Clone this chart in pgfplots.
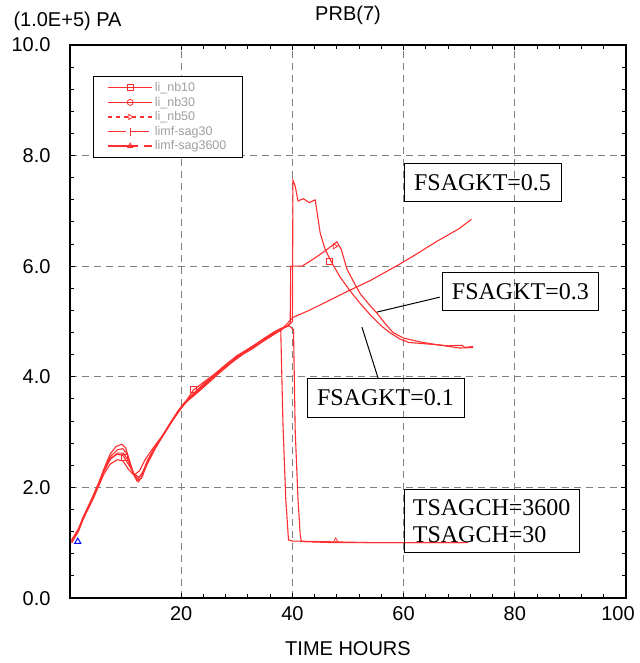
\documentclass[border=0pt]{standalone}
\usepackage{fontspec}
\setmainfont{Liberation Serif}
\setsansfont{Liberation Sans}
\usepackage{pgfplots}
\pgfplotsset{compat=1.18}
\definecolor{mred}{RGB}{255,45,45}
\begin{document}
\begin{tikzpicture}
\begin{axis}[name=ax, scale only axis, width=556pt, height=553pt,
  xmin=0, xmax=100, ymin=0, ymax=10,
  xtick={20,40,60,80,100}, ytick={0,2,4,6,8,10},
  xticklabels={20,40,60,80,\hspace*{-16pt}100},
  minor x tick num=4, minor y tick num=4,
  tick align=inside, major tick length=5pt, minor tick length=4pt,
  tick style={black, line width=1pt},
  axis line style={line width=1.6pt},
  grid=major, major grid style={gray, dash pattern=on 7pt off 5pt, line width=1.2pt},
  /pgf/number format/assume math mode=true,
  ticklabel style={font=\sffamily\fontsize{20}{20}\selectfont},
  xticklabel style={anchor=base, yshift=-22pt},
  yticklabel style={anchor=base east, xshift=-16pt, yshift=-7pt, /pgf/number format/fixed, /pgf/number format/fixed zerofill, /pgf/number format/precision=1},
  xlabel={TIME HOURS},
  xlabel style={font=\sffamily\fontsize{20}{20}\selectfont, at={(axis description cs:0.5,0)}, anchor=base, yshift=-57pt},
  title={PRB(7)},
  title style={font=\sffamily\fontsize{20}{20}\selectfont, at={(axis description cs:0.5,1)}, anchor=base, yshift=18pt},
  clip mode=individual,
  legend image code/.code={\draw[mark repeat=2,mark phase=2,#1] plot coordinates {(0pt,0pt) (22pt,0pt) (44pt,0pt)};},
  legend style={at={(axis cs:4.14,9.44)}, anchor=north west, draw=black, line width=1.2pt,
    font=\sffamily\fontsize{12.5}{12.5}\selectfont, text=gray!75, row sep=0pt, inner xsep=14pt, inner ysep=4pt},
  legend cell align=left,
]
\addlegendimage{mred, line width=1.2pt, mark=square, mark size=3pt, mark options={solid, line width=0.8pt}}
\addlegendentry{li\_nb10}
\addlegendimage{mred, line width=1.2pt, mark=o, mark size=3pt, mark options={solid, line width=0.8pt}}
\addlegendentry{li\_nb30}
\addlegendimage{mred, line width=1.2pt, dash pattern=on 4pt off 4pt, mark=triangle, mark size=3pt, mark options={solid, rotate=-90, line width=0.8pt}}
\addlegendentry{li\_nb50}
\addlegendimage{mred, line width=1.2pt, dash pattern=on 18pt off 5pt, mark=|, mark size=4pt, mark options={solid, line width=0.8pt}}
\addlegendentry{limf-sag30}
\addlegendimage{mred, line width=1.2pt, dash pattern=on 30pt off 6pt, mark=triangle, mark size=3pt, mark options={solid, line width=0.8pt}}
\addlegendentry{limf-sag3600}

% li_nb10 (FSAGKT=0.1)
\addplot[mred, line width=1.1pt, forget plot] coordinates {
(0.3,1.05)(1.5,1.25)(2.4,1.47)(3.3,1.66)(4.2,1.86)(5.2,2.08)(6,2.31)(7.2,2.6)(8.3,2.74)(9.3,2.78)(10,2.72)(10.8,2.45)(11.6,2.2)(12.3,2.1)(13,2.2)(13.8,2.45)(15,2.68)(16.2,2.86)(17.8,3.12)(19.4,3.38)(21,3.58)(22.2,3.76)(24,3.9)(26,4.05)(28,4.22)(30,4.38)(32,4.5)(34,4.62)(36,4.75)(38,4.85)(39.5,4.95)(40,5.0)(40.1,7.55)(40.5,7.45)(41,7.18)(42,7.22)(43,7.15)(44.1,7.2)(45,6.6)(45.9,6.3)(47.1,6.06)(48.6,5.8)(50.4,5.55)(52,5.35)(54,5.12)(56,4.92)(57.5,4.8)(59.4,4.68)(61,4.62)(63.5,4.6)(66,4.58)(68,4.56)(70.5,4.57)(71,4.53)(72.5,4.55)};
\addplot[mred, only marks, mark=square, mark size=3pt, line width=0.8pt, forget plot] coordinates {(9.8,2.55)(22.2,3.78)(46.6,6.08)};
% li_nb30 (FSAGKT=0.3)
\addplot[mred, line width=1.1pt, forget plot] coordinates {
(0.3,1.0)(1.5,1.2)(2.4,1.43)(4.2,1.8)(6,2.22)(7.2,2.42)(8.5,2.5)(9.5,2.48)(10.5,2.33)(11.5,2.22)(12.5,2.3)(13.5,2.5)(15,2.72)(16.5,2.92)(18,3.16)(19.5,3.38)(21,3.55)(23,3.72)(25,3.9)(27,4.08)(29,4.25)(31,4.4)(33,4.52)(35,4.66)(37,4.8)(38.8,4.9)(39.6,4.96)(39.7,6.0)(41.7,6.0)(43,6.08)(44.5,6.18)(46.2,6.3)(48,6.44)(48.8,6.3)(49.8,5.95)(51,5.72)(52.2,5.5)(53.7,5.32)(55.2,5.15)(56.7,4.96)(58.1,4.8)(60,4.7)(63,4.63)(66,4.58)(70.1,4.52)(72.5,4.53)};
\addplot[mred, only marks, mark=triangle, mark size=3pt, mark options={rotate=-90}, line width=0.8pt, forget plot] coordinates {(47.6,6.36)};
% li_nb50 (FSAGKT=0.5)
\addplot[mred, line width=1.1pt, forget plot] coordinates {
(0.3,1.02)(1.5,1.22)(2.4,1.45)(4.2,1.84)(6,2.27)(7.2,2.5)(8.5,2.62)(9.6,2.62)(10.4,2.5)(11.4,2.25)(12.2,2.15)(13,2.25)(14,2.5)(15.5,2.75)(17,2.98)(18.5,3.22)(20,3.45)(22,3.66)(24,3.85)(26,4.02)(28,4.18)(30,4.34)(32,4.48)(34,4.6)(36,4.72)(38,4.85)(40.2,5.08)(43,5.2)(46,5.35)(50,5.55)(54,5.74)(59,6.02)(62,6.2)(66,6.45)(70,6.68)(72.2,6.85)};
% limf-sag30
\addplot[mred, line width=1.1pt, forget plot] coordinates {
(0.3,1.0)(1.5,1.22)(2.4,1.46)(4.2,1.85)(6,2.29)(7.2,2.55)(8.5,2.68)(9.5,2.7)(10.3,2.6)(11.2,2.32)(12,2.12)(12.8,2.16)(13.8,2.4)(15,2.64)(16.5,2.9)(18,3.14)(19.5,3.36)(21,3.56)(23,3.74)(25,3.92)(27,4.1)(29,4.27)(31,4.42)(33,4.56)(35,4.7)(36.5,4.8)(37.9,4.87)(38.3,3.16)(38.8,1.8)(39.3,1.05)(40,1.03)(45,1.02)(55,1.0)(65,1.0)(70.7,1.0)};
% limf-sag3600
\addplot[mred, line width=1.1pt, forget plot] coordinates {
(0.3,1.03)(1.5,1.23)(2.4,1.46)(4.2,1.84)(6,2.27)(7.2,2.52)(8.5,2.6)(9.5,2.58)(10.5,2.42)(11.5,2.25)(12.4,2.18)(13.2,2.3)(14.3,2.55)(15.7,2.78)(17.2,3.02)(18.8,3.28)(20.3,3.5)(22,3.68)(24,3.87)(26,4.04)(28,4.2)(30,4.36)(32,4.5)(34,4.63)(36,4.76)(38,4.88)(39.5,4.92)(40.2,4.85)(40.5,3.04)(41.0,1.8)(41.4,1.15)(41.6,1.02)(47.8,1.0)(60,1.0)(71.6,1.0)};
\addplot[mred, only marks, mark=triangle, mark size=3pt, line width=0.8pt, forget plot] coordinates {(47.8,1.03)};
% blue marker
\addplot[blue, only marks, mark=triangle, mark size=3.5pt, line width=1pt, forget plot] coordinates {(1.4,1.02)};

% annotations
\node[draw=black, line width=0.8pt, inner xsep=10pt, inner ysep=11pt, font=\fontsize{24}{27}\selectfont] at (axis cs:74.2,7.51) {FSAGKT=0.5};
\node[draw=black, line width=0.8pt, inner xsep=10pt, inner ysep=11pt, font=\fontsize{24}{27}\selectfont] at (axis cs:81.0,5.54) {FSAGKT=0.3};
\node[draw=black, line width=0.8pt, inner xsep=10pt, inner ysep=11pt, font=\fontsize{24}{27}\selectfont] at (axis cs:56.74,3.62) {FSAGKT=0.1};
\node[draw=black, line width=0.8pt, inner xsep=9pt, inner ysep=10pt, align=left, font=\fontsize{24}{27}\selectfont] at (axis cs:75.84,1.39) {TSAGCH=3600\\TSAGCH=30};
\draw[black, line width=1pt] (axis cs:66.5,5.44) -- (axis cs:55.2,5.17);
\draw[black, line width=1pt] (axis cs:55.4,3.98) -- (axis cs:52.5,4.9);
\node[font=\sffamily\fontsize{20}{20}\selectfont, anchor=base west] at ([xshift=-60pt,yshift=18pt]rel axis cs:0,1) {(1.0E+5) PA};
\end{axis}
\pgfresetboundingbox
\useasboundingbox ([xshift=-70pt,yshift=-65pt]ax.south west) rectangle ([xshift=13pt,yshift=45pt]ax.north east);
\end{tikzpicture}
\end{document}
